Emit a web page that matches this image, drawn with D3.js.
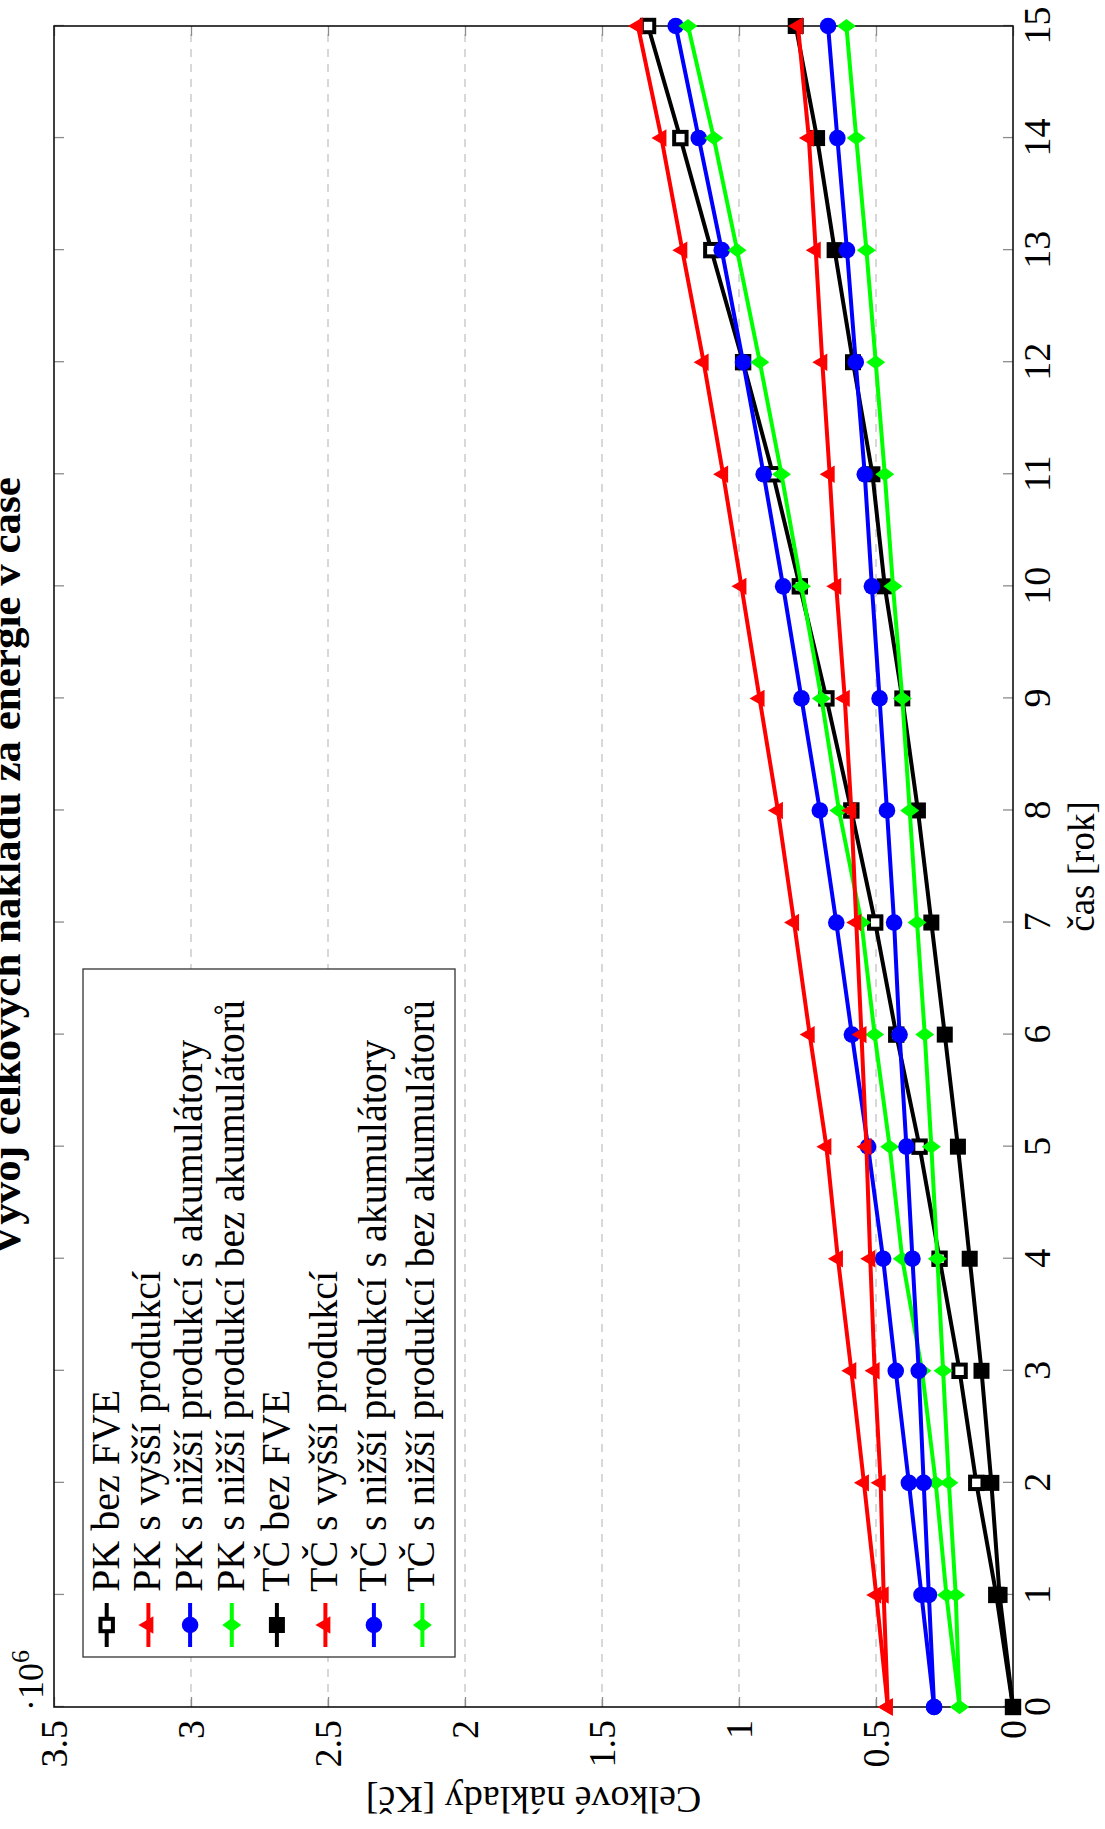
<!DOCTYPE html>
<meta charset='utf-8'>
<style>
body { margin: 0; background: #fff; }
svg text { font-family: 'Liberation Serif', 'Times New Roman', serif; fill: #000; }
.grid line { stroke: #c4c4c4; stroke-width: 1.3; stroke-dasharray: 8 7; }
.ticks line { stroke: #8c8c8c; stroke-width: 1.3; }
.ticks path.domain { display: none; }
.ticks text { font-size: 38px; }
</style>
<script src='https://cdn.jsdelivr.net/npm/d3@7/dist/d3.min.js'></script>
<body>
<script>
'use strict'

// Data - total costs (in millions CZK) over 15 years, rotated pgfplots-like figure

let years = d3.range(0, 16),
	year_ticks = d3.range(0, 16),
	value_ticks = [0, 0.5, 1, 1.5, 2, 2.5, 3, 3.5],
	series_names = [
		'PK bez FVE',
		'PK s vyšší produkcí',
		'PK s nižší produkcí s akumulátory',
		'PK s nižší produkcí bez akumulátorů',
		'TČ bez FVE',
		'TČ s vyšší produkcí',
		'TČ s nižší produkcí s akumulátory',
		'TČ s nižší produkcí bez akumulátorů' ]

let pk_bez_fve = [0, 0.061, 0.134, 0.195, 0.268, 0.341, 0.426, 0.503, 0.590, 0.681, 0.778, 0.876, 0.985, 1.101, 1.214, 1.332],
	pk_vyssi = [0.457, 0.499, 0.544, 0.590, 0.639, 0.681, 0.742, 0.799, 0.858, 0.925, 0.991, 1.058, 1.129, 1.207, 1.283, 1.369],
	pk_nizsi_akum = [0.288, 0.334, 0.380, 0.428, 0.474, 0.529, 0.588, 0.645, 0.705, 0.772, 0.839, 0.910, 0.985, 1.063, 1.147, 1.231],
	pk_nizsi_bez = [0.195, 0.243, 0.282, 0.332, 0.404, 0.450, 0.505, 0.553, 0.635, 0.699, 0.772, 0.845, 0.924, 1.007, 1.092, 1.186],
	tc_bez_fve = [0, 0.049, 0.079, 0.115, 0.158, 0.201, 0.249, 0.298, 0.347, 0.404, 0.468, 0.513, 0.584, 0.651, 0.715, 0.793],
	tc_vyssi = [0.457, 0.472, 0.483, 0.505, 0.521, 0.535, 0.553, 0.572, 0.590, 0.614, 0.645, 0.669, 0.696, 0.720, 0.745, 0.785],
	tc_nizsi_akum = [0.288, 0.307, 0.326, 0.344, 0.367, 0.389, 0.414, 0.434, 0.460, 0.487, 0.515, 0.541, 0.574, 0.606, 0.641, 0.675],
	tc_nizsi_bez = [0.195, 0.209, 0.234, 0.255, 0.276, 0.298, 0.322, 0.350, 0.377, 0.404, 0.438, 0.468, 0.501, 0.535, 0.572, 0.608]

let series_values = [pk_bez_fve, pk_vyssi, pk_nizsi_akum, pk_nizsi_bez,
		tc_bez_fve, tc_vyssi, tc_nizsi_akum, tc_nizsi_bez],
	series_colors = ['#000', '#f00', '#00f', '#0f0', '#000', '#f00', '#00f', '#0f0'],
	series_marks = ['square_open', 'triangle', 'circle', 'diamond', 'square', 'triangle', 'circle', 'diamond']


// Layout - chart is drawn normally, then the whole thing is turned 90deg ccw

let width = 1681, height = 959,
	page_w = 1105, page_h = 1829,
	lw = 4

let svg = d3.select('body').append('svg')
	.attr('width', page_w).attr('height', page_h)
svg.append('rect').attr('width', page_w).attr('height', page_h).attr('fill', '#fff')

let vis = svg.append('g').attr('transform', 'translate(54,1707) rotate(-90)')

let x = d3.scaleLinear([0, 15], [0, width]),
	y = d3.scaleLinear([0, 3.5], [height, 0])

// grid
vis.append('g').attr('class', 'grid')
	.selectAll('line').data(value_ticks.filter(v => v > 0 && v < 3.5))
	.join('line').attr('x1', 0).attr('x2', width)
		.attr('y1', d => y(d)).attr('y2', d => y(d))

// axes, ticks pointing inside
vis.append('g').attr('class', 'ticks').attr('transform', `translate(0,${height})`)
	.call(d3.axisBottom(x).tickValues(year_ticks).tickSize(-10).tickPadding(10))
vis.append('g').attr('class', 'ticks')
	.call(d3.axisTop(x).tickValues(year_ticks).tickSize(-10).tickFormat(''))
vis.append('g').attr('class', 'ticks')
	.call(d3.axisLeft(y).tickValues(value_ticks).tickSize(-10).tickPadding(13).tickFormat(d => String(d)))
vis.append('g').attr('class', 'ticks').attr('transform', `translate(${width},0)`)
	.call(d3.axisRight(y).tickValues(value_ticks).tickSize(-10).tickFormat(''))

vis.selectAll('.ticks text').attr('font-family', 'Liberation Serif')

// frame
vis.append('rect').attr('width', width).attr('height', height)
	.attr('fill', 'none').attr('stroke', '#111').attr('stroke-width', 1.6)

// markers
let mark = (sel, kind, color) => {
	if (kind == 'circle') sel.append('circle').attr('r', 8.3).attr('fill', color)
	else if (kind == 'square') sel.append('rect').attr('x', -8).attr('y', -8)
		.attr('width', 16).attr('height', 16).attr('fill', color)
	else if (kind == 'square_open') sel.append('rect').attr('x', -6.2).attr('y', -6.2)
		.attr('width', 12.4).attr('height', 12.4).attr('fill', '#fff')
		.attr('stroke', color).attr('stroke-width', lw)
	else if (kind == 'triangle') sel.append('path').attr('d', 'M0,-10L8.7,5L-8.7,5Z').attr('fill', color)
	else if (kind == 'diamond') sel.append('path').attr('d', 'M0,-9.5L7,0L0,9.5L-7,0Z').attr('fill', color)
}

let line = d3.line().x((d, i) => x(years[i])).y(d => y(d))

series_values.forEach((vals, si) => {
	let g = vis.append('g')
	g.append('path').attr('d', line(vals))
		.attr('fill', 'none').attr('stroke', series_colors[si])
		.attr('stroke-width', lw).attr('stroke-linejoin', 'round')
	vals.forEach((v, i) => {
		let m = g.append('g').attr('transform', `translate(${x(years[i])},${y(v)})`)
		mark(m, series_marks[si], series_colors[si])
	})
})

// legend (north west)
let legend = vis.append('g').attr('transform', 'translate(50,29)')
legend.append('rect').attr('width', 688).attr('height', 372)
	.attr('fill', '#fff').attr('stroke', '#333').attr('stroke-width', 1.3)

let row_h = series_names.map(n => n.startsWith('TČ') ? 48.5 : 41.7),
	row_c = []
row_h.forEach((h, i) => row_c.push(i == 0 ? 23.7 : row_c[i - 1] + (row_h[i - 1] + h) / 2))

series_names.forEach((name, i) => {
	let r = legend.append('g').attr('transform', `translate(0,${row_c[i]})`)
	r.append('line').attr('x1', 10).attr('x2', 54)
		.attr('stroke', series_colors[i]).attr('stroke-width', lw)
	mark(r.append('g').attr('transform', 'translate(32,0)'), series_marks[i], series_colors[i])
	r.append('text').attr('x', 65).attr('y', 12)
		.attr('font-size', 40).text(name)
})

// labels
vis.append('text').attr('x', width / 2).attr('y', -34)
	.attr('text-anchor', 'middle').attr('font-size', 43).attr('font-weight', 'bold')
	.text('Vývoj celkových nákladů za energie v čase')

vis.append('text').attr('x', width / 2).attr('y', height + 81)
	.attr('text-anchor', 'middle').attr('font-size', 37).text('čas [rok]')

vis.append('text').attr('transform', `translate(-80,${height / 2}) rotate(-90)`)
	.attr('text-anchor', 'middle').attr('font-size', 38).text('Celkové náklady [Kč]')

let exp = vis.append('text').attr('x', -4).attr('y', -11).attr('font-size', 36)
exp.append('tspan').text('·10')
exp.append('tspan').attr('dy', -14).attr('font-size', 26).text('6')
</script>
